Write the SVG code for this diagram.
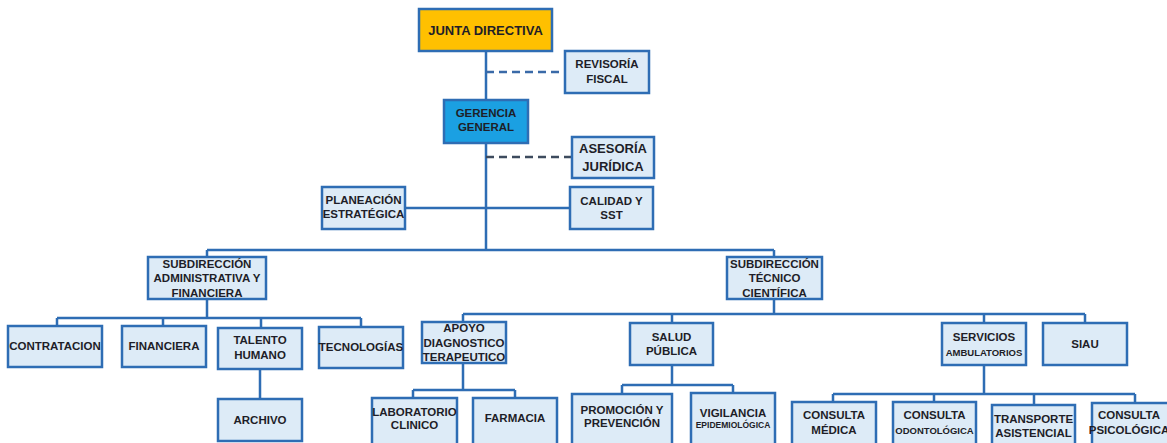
<svg xmlns="http://www.w3.org/2000/svg" width="1167" height="443" viewBox="0 0 1167 443">
<style>
.box{fill:#DDEBF7;stroke:#2E6DB4;stroke-width:2.5}
.t{font-family:"Liberation Sans",Arial,sans-serif;font-weight:bold;font-size:11.5px;fill:#1E1E28;text-anchor:middle}
.big{font-size:13px}
.sm{font-size:9.5px}
.xs{font-size:8.5px}
.c{fill:none;stroke:#2E6DB4;stroke-width:2.5}
.d{fill:none;stroke:#3A6AA8;stroke-width:2.5;stroke-dasharray:8 5}
.d2{fill:none;stroke:#3D4B5E;stroke-width:2.5;stroke-dasharray:8 5}
</style>
<rect width="1167" height="443" fill="#FFFFFF"/>
<g id="connectors">
<path class="c" d="M486 51V250M405 208H570M207 250H774M207 250V257M774 250V257"/>
<path class="d" d="M486 72H565"/>
<path class="d2" d="M486 157H572"/>
<path class="c" d="M207 299V318M57 318H361M57 318V326M163 318V326M261 318V328M361 318V327M260 369V399"/>
<path class="c" d="M774 299V314M463 314H1085M463 314V322M672 314V323M984 314V323M1085 314V323"/>
<path class="c" d="M463 363V390M413 390H515M413 390V398M515 390V398"/>
<path class="c" d="M672 365V385M622 385H733M622 385V394M733 385V393"/>
<path class="c" d="M984 365V394M833 394H1135M833 394V402M934 394V402M1034 394V405M1135 394V403"/>
</g>
<g id="junta"><rect class="box" x="419" y="9" width="133" height="42" style="fill:#FFC000"/><text class="t big" x="485.5" y="35">JUNTA DIRECTIVA</text></g>
<g id="revisoria"><rect class="box" x="565" y="51" width="84" height="42"/><text class="t" x="607" y="68">REVISORÍA</text><text class="t" x="607" y="83">FISCAL</text></g>
<g id="gerencia"><rect class="box" x="444" y="100" width="84" height="43" style="fill:#1BA0E2"/><text class="t" x="486" y="117">GERENCIA</text><text class="t" x="486" y="131">GENERAL</text></g>
<g id="asesoria"><rect class="box" x="572" y="137" width="82" height="41"/><text class="t big" x="613" y="153">ASESORÍA</text><text class="t big" x="613" y="171">JURÍDICA</text></g>
<g id="planeacion"><rect class="box" x="322" y="187" width="83" height="42"/><text class="t" x="363.5" y="204">PLANEACIÓN</text><text class="t" x="363.5" y="218">ESTRATÉGICA</text></g>
<g id="calidad"><rect class="box" x="570" y="187" width="83" height="42"/><text class="t" x="611.5" y="205">CALIDAD Y</text><text class="t" x="611.5" y="219">SST</text></g>
<g id="subadmin"><rect class="box" x="148" y="257" width="118" height="42"/><text class="t" x="207" y="268">SUBDIRECCIÓN</text><text class="t" x="207" y="282">ADMINISTRATIVA Y</text><text class="t" x="207" y="297">FINANCIERA</text></g>
<g id="contratacion"><rect class="box" x="8" y="326" width="94" height="41"/><text class="t" x="55" y="350">CONTRATACION</text></g>
<g id="financiera"><rect class="box" x="122" y="326" width="84" height="41"/><text class="t" x="164" y="350">FINANCIERA</text></g>
<g id="talento"><rect class="box" x="218" y="328" width="84" height="41"/><text class="t" x="260" y="344">TALENTO</text><text class="t" x="260" y="359">HUMANO</text></g>
<g id="tecnologias"><rect class="box" x="319" y="327" width="84" height="41"/><text class="t" x="361" y="351">TECNOLOGÍAS</text></g>
<g id="archivo"><rect class="box" x="218" y="399" width="84" height="42"/><text class="t" x="260" y="424">ARCHIVO</text></g>
<g id="subtecnico"><rect class="box" x="727" y="257" width="95" height="42"/><text class="t" x="774.5" y="268">SUBDIRECCIÓN</text><text class="t" x="774.5" y="282">TÉCNICO</text><text class="t" x="774.5" y="297">CIENTÍFICA</text></g>
<g id="apoyo"><rect class="box" x="422" y="322" width="84" height="41"/><text class="t" x="464" y="332">APOYO</text><text class="t" x="464" y="347">DIAGNOSTICO</text><text class="t" x="464" y="361">TERAPEUTICO</text></g>
<g id="salud"><rect class="box" x="630" y="323" width="83" height="42"/><text class="t" x="671.5" y="341">SALUD</text><text class="t" x="671.5" y="355">PÚBLICA</text></g>
<g id="servicios"><rect class="box" x="942" y="323" width="84" height="42"/><text class="t" x="984" y="341">SERVICIOS</text><text class="t sm" x="984" y="356">AMBULATORIOS</text></g>
<g id="siau"><rect class="box" x="1043" y="323" width="84" height="42"/><text class="t" x="1085" y="348">SIAU</text></g>
<g id="laboratorio"><rect class="box" x="372" y="398" width="85" height="50"/><text class="t" x="414.5" y="416">LABORATORIO</text><text class="t" x="414.5" y="429">CLINICO</text></g>
<g id="farmacia"><rect class="box" x="473" y="398" width="84" height="50"/><text class="t" x="515" y="422">FARMACIA</text></g>
<g id="promocion"><rect class="box" x="572" y="394" width="100" height="54"/><text class="t" x="622" y="414">PROMOCIÓN Y</text><text class="t" x="622" y="427">PREVENCIÓN</text></g>
<g id="vigilancia"><rect class="box" x="691" y="393" width="84" height="55"/><text class="t" x="733" y="417">VIGILANCIA</text><text class="t xs" x="733" y="428">EPIDEMIOLÓGICA</text></g>
<g id="consultamedica"><rect class="box" x="792" y="402" width="84" height="48"/><text class="t" x="834" y="419">CONSULTA</text><text class="t" x="834" y="434">MÉDICA</text></g>
<g id="odontologica"><rect class="box" x="893" y="402" width="83" height="48"/><text class="t" x="934.5" y="419">CONSULTA</text><text class="t sm" x="934.5" y="434">ODONTOLÓGICA</text></g>
<g id="transporte"><rect class="box" x="992" y="405" width="83" height="48"/><text class="t" x="1033.5" y="423">TRANSPORTE</text><text class="t" x="1033.5" y="437">ASISTENCIAL</text></g>
<g id="psicologica"><rect class="box" x="1092" y="403" width="90" height="48"/><text class="t" x="1129" y="419">CONSULTA</text><text class="t" x="1129" y="434">PSICOLÓGICA</text></g>
</svg>
